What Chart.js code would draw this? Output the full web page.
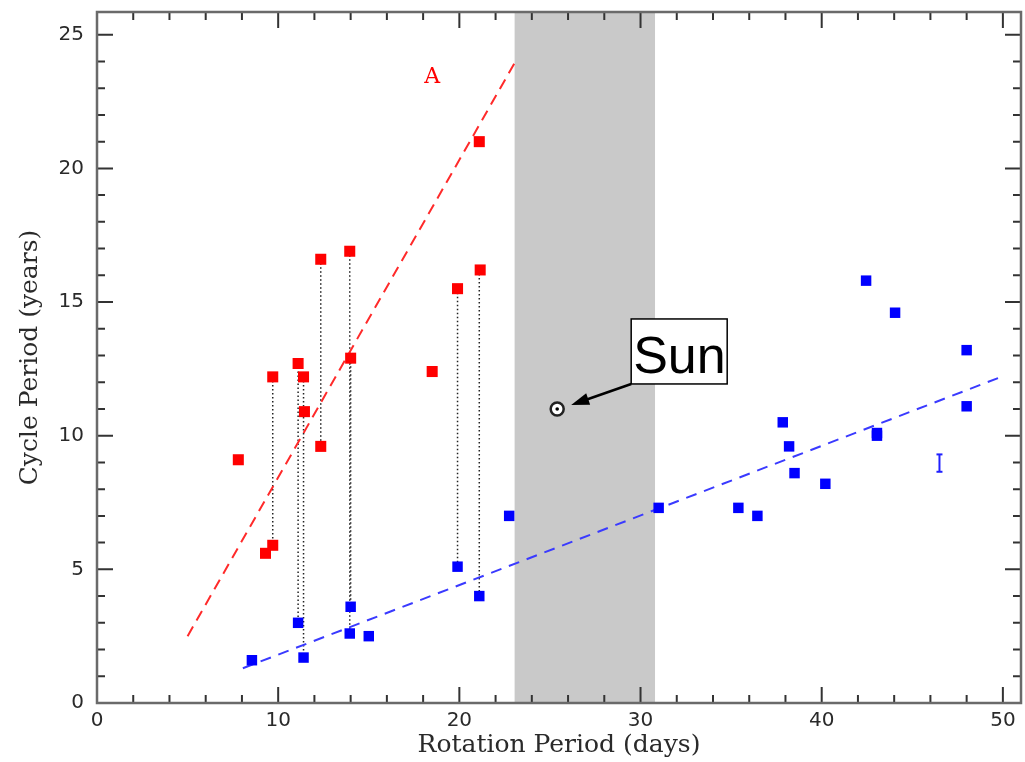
<!DOCTYPE html>
<html>
<head>
<meta charset="utf-8">
<title>Cycle period vs rotation period</title>
<script src="https://cdn.jsdelivr.net/npm/chart.js@4.4.1/dist/chart.umd.min.js"></script>
<style>
  html, body { margin: 0; padding: 0; background: #fff; }
</style>
</head>
<body>
<canvas id="chart" width="1025" height="762"></canvas>
<script>
// --- data ---
// active branch (red)
const redX = [7.8, 9.3, 9.7, 9.7, 11.1, 11.4, 11.45, 12.35, 12.35, 13.95, 14.0, 18.5, 19.9, 21.1, 21.15];
const redY = [9.1, 5.6, 5.9, 12.2, 12.7, 12.2, 10.9, 9.6, 16.6, 16.9, 12.9, 12.4, 15.5, 21.0, 16.2];
// inactive branch (blue)
const blueX = [8.55, 11.1, 11.4, 13.95, 14.0, 15.0, 19.9, 21.1, 22.75, 31.0, 35.4, 36.45, 37.85, 38.2, 38.5, 40.2, 42.45, 44.05, 43.05, 43.05, 48.0, 48.0];
const blueY = [1.6, 3.0, 1.7, 2.6, 3.6, 2.5, 5.1, 4.0, 7.0, 7.3, 7.3, 7.0, 10.5, 9.6, 8.6, 8.2, 15.8, 14.6, 10.0, 10.1, 13.2, 11.1];
// stars with two cycles: dotted links between them
const linkX = [9.7, 11.1, 11.4, 12.35, 13.95, 14.0, 19.9, 21.1];
const linkTop = [12.2, 12.7, 12.2, 16.6, 16.9, 12.9, 15.5, 16.2];
const linkBottom = [5.9, 3.0, 1.7, 9.6, 2.6, 3.6, 5.1, 4.0];
// fitted sequences
const redFitX = [5.0, 23.1];
const redFitY = [2.5, 24.0];
const blueFitX = [8.05, 50.1];
const blueFitY = [1.3, 12.25];
// the Sun and the gray band of its rotation range
const sunX = [25.4];
const sunY = [11.0];
const bandRange = [23.05, 30.8];
// branch labels
const labelA = {text: 'A', x: 18.5, y: 23.4};
const errX = [46.5, 46.5];
const errY = [8.65, 9.3];

const xMax = 51, yMax = 25.85;

const pts = (xs, ys) => xs.map((v, i) => ({x: v, y: ys[i]}));

const linkSets = linkX.map((v, i) => ({
  type: 'line',
  data: [{x: v, y: linkTop[i]}, {x: v, y: linkBottom[i]}],
  borderColor: '#222',
  borderWidth: 1.5,
  borderDash: [1.5, 2.5],
  pointRadius: 0,
  order: 5
}));

const framePlugin = {
  id: 'frame',
  beforeDatasetsDraw(chart) {
    const {ctx, chartArea: a, scales: {x}} = chart;
    const x0 = x.getPixelForValue(bandRange[0]);
    const x1 = x.getPixelForValue(bandRange[1]);
    ctx.save();
    ctx.fillStyle = '#c9c9c9';
    ctx.fillRect(x0, a.top, x1 - x0, a.bottom - a.top);
    ctx.restore();
  },
  afterDatasetsDraw(chart) {
    const {ctx, chartArea: a, scales: {x, y}} = chart;
    ctx.save();

    // inward ticks on all four sides
    ctx.strokeStyle = '#333';
    ctx.lineWidth = 2;
    ctx.beginPath();
    for (let v = 0; v <= 50; v += 2) {
      const px = x.getPixelForValue(v);
      const len = v % 10 === 0 ? 16 : 8;
      ctx.moveTo(px, a.bottom); ctx.lineTo(px, a.bottom - len);
      ctx.moveTo(px, a.top); ctx.lineTo(px, a.top + len);
    }
    for (let v = 0; v <= 25; v += 1) {
      const py = y.getPixelForValue(v);
      const len = v % 5 === 0 ? 16 : 8;
      ctx.moveTo(a.left, py); ctx.lineTo(a.left + len, py);
      ctx.moveTo(a.right, py); ctx.lineTo(a.right - len, py);
    }
    ctx.stroke();

    // frame
    ctx.strokeStyle = '#6a6a6a';
    ctx.lineWidth = 2.5;
    ctx.strokeRect(a.left, a.top, a.right - a.left, a.bottom - a.top);

    // "A" label
    ctx.fillStyle = '#ff0000';
    ctx.font = '22px "DejaVu Serif"';
    ctx.textAlign = 'center';
    ctx.textBaseline = 'middle';
    ctx.fillText(labelA.text, x.getPixelForValue(labelA.x), y.getPixelForValue(labelA.y));

    // Sun call-out
    const sx = x.getPixelForValue(sunX[0]);
    const sy = y.getPixelForValue(sunY[0]);
    const bx = sx + 74, by = sy - 90, bw = 96, bh = 65;
    ctx.fillStyle = '#fff';
    ctx.fillRect(bx, by, bw, bh);
    ctx.strokeStyle = '#000';
    ctx.lineWidth = 1.5;
    ctx.strokeRect(bx, by, bw, bh);
    ctx.fillStyle = '#000';
    ctx.font = '52px "Liberation Sans"';
    ctx.textAlign = 'left';
    ctx.textBaseline = 'alphabetic';
    ctx.fillText('Sun', bx + 2, by + 54);

    // arrow from box corner to the Sun
    const tx = sx + 14, ty = sy - 4;
    const fx = bx, fy = by + bh;
    const ang = Math.atan2(ty - fy, tx - fx);
    ctx.lineWidth = 2.5;
    ctx.beginPath();
    ctx.moveTo(fx, fy);
    ctx.lineTo(tx - 12 * Math.cos(ang), ty - 12 * Math.sin(ang));
    ctx.stroke();
    ctx.beginPath();
    ctx.moveTo(tx, ty);
    ctx.lineTo(tx - 18 * Math.cos(ang) + 6 * Math.sin(ang), ty - 18 * Math.sin(ang) - 6 * Math.cos(ang));
    ctx.lineTo(tx - 18 * Math.cos(ang) - 6 * Math.sin(ang), ty - 18 * Math.sin(ang) + 6 * Math.cos(ang));
    ctx.closePath();
    ctx.fill();

    ctx.restore();
  }
};

const tickFont = {family: '"DejaVu Sans"', size: 20};
const titleFont = {family: '"DejaVu Serif"', size: 25};

// keep the plot box fixed: no extra room for overhanging labels
const noPad = s => { s.paddingTop = 0; s.paddingBottom = 0; s.paddingLeft = 0; s.paddingRight = 0; };

new Chart(document.getElementById('chart').getContext('2d'), {
  type: 'scatter',
  data: {
    datasets: [
      {
        label: 'Sun dot',
        data: pts(sunX, sunY),
        pointStyle: 'circle',
        pointRadius: 1.8,
        backgroundColor: '#000',
        borderWidth: 0,
        order: 0
      },
      {
        label: 'Sun',
        data: pts(sunX, sunY),
        pointStyle: 'circle',
        pointRadius: 6.5,
        backgroundColor: '#fff',
        borderColor: '#222',
        borderWidth: 2.5,
        order: 1
      },
      {
        label: 'Active',
        data: pts(redX, redY),
        pointStyle: 'rect',
        pointRadius: 7.8,
        backgroundColor: '#ff0000',
        borderWidth: 0,
        order: 2
      },
      {
        label: 'Inactive',
        data: pts(blueX, blueY),
        pointStyle: 'rect',
        pointRadius: 7.4,
        backgroundColor: '#0000ff',
        borderWidth: 0,
        order: 2
      },
      {
        label: 'I',
        type: 'line',
        data: pts(errX, errY),
        borderColor: '#2020ff',
        borderWidth: 2,
        pointStyle: 'line',
        pointRadius: 3,
        pointBorderColor: '#2020ff',
        pointBorderWidth: 2,
        order: 3
      },
      {
        label: 'Active fit',
        type: 'line',
        data: pts(redFitX, redFitY),
        borderColor: '#ff2a2a',
        borderWidth: 2,
        borderDash: [11, 7],
        pointRadius: 0,
        order: 4
      },
      {
        label: 'Inactive fit',
        type: 'line',
        data: pts(blueFitX, blueFitY),
        borderColor: '#3a3aff',
        borderWidth: 2,
        borderDash: [11, 8],
        pointRadius: 0,
        order: 4
      },
      ...linkSets
    ]
  },
  options: {
    responsive: false,
    animation: false,
    layout: {autoPadding: false, padding: {top: 12, right: 4, left: 0, bottom: 0}},
    plugins: {legend: {display: false}, tooltip: {enabled: false}},
    scales: {
      x: {
        type: 'linear',
        min: 0,
        max: xMax,
        grid: {display: false, drawTicks: false},
        border: {display: false},
        ticks: {
          stepSize: 10,
          padding: 6,
          color: '#2a2a2a',
          font: tickFont,
          maxRotation: 0,
          autoSkip: false,
          includeBounds: false
        },
        title: {display: true, text: 'Rotation Period (days)', color: '#2a2a2a', font: titleFont, padding: {top: 0, bottom: 2}},
        afterFit: s => { s.height = 59; noPad(s); }
      },
      y: {
        type: 'linear',
        min: 0,
        max: yMax,
        grid: {display: false, drawTicks: false},
        border: {display: false},
        ticks: {
          stepSize: 5,
          padding: 13,
          color: '#2a2a2a',
          font: tickFont,
          autoSkip: false,
          includeBounds: false
        },
        title: {display: true, text: 'Cycle Period (years)', color: '#2a2a2a', font: titleFont, padding: {top: 15, bottom: 0}},
        afterFit: s => { s.width = 97; noPad(s); }
      }
    }
  },
  plugins: [framePlugin]
});
</script>
</body>
</html>
